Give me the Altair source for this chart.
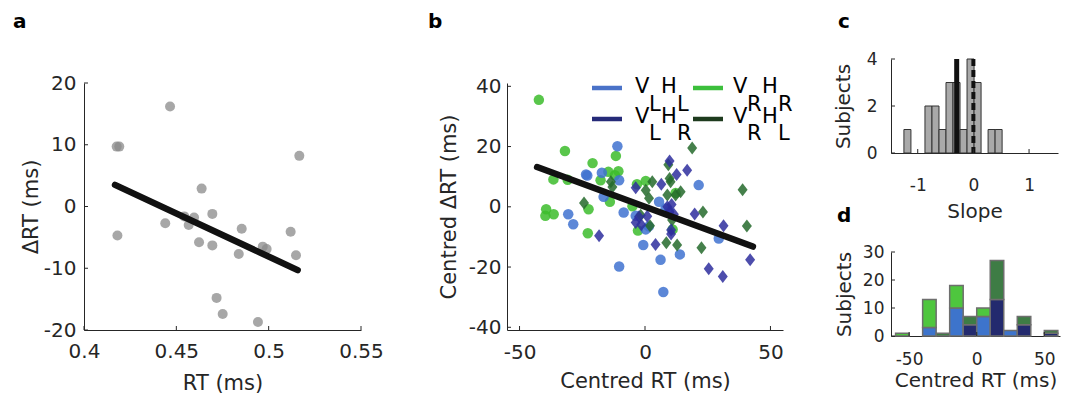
import altair as alt
import pandas as pd

FONT = "DejaVu Sans"
INK = "#262626"

# ---------------- panel a data ----------------
a_rt = [0.4466, 0.4177, 0.4191, 0.4181, 0.5166, 0.4637, 0.4440, 0.4543, 0.4596, 0.4567,
        0.4695, 0.4623, 0.4695, 0.4854, 0.4838, 0.4968, 0.4989, 0.5119, 0.5148, 0.4718,
        0.4751, 0.4942]
a_drt = [16.2, 9.7, 9.7, -4.7, 8.2, 2.9, -2.7, -1.6, -1.8, -3.0,
         -1.2, -5.8, -6.3, -3.6, -7.7, -6.5, -6.9, -4.1, -7.9, -14.8,
         -17.4, -18.7]
a_fit_x = [0.4168, 0.5157]
a_fit_y = [3.5, -10.3]
a_xticks = [0.4, 0.45, 0.5, 0.55]
a_yticks = [-20, -10, 0, 10, 20]

# ---------------- panel b data ----------------
b_vrhr_x = [-42.3, -31.9, -20.9, -11.6, -10.6, -14.6, -17.7, -36.5, -30.8, -39.4, -39.7,
            -36.4, -22.5, -22.8, -14.0, -5.0, -2.8, -3.2, 0.3, 12.2, 11.0, -12.0]
b_vrhr_y = [35.5, 18.5, 14.5, 16.9, 11.8, 11.6, 8.8, 9.1, 9.0, -0.8, -3.0,
            -2.5, -0.8, -8.8, 1.7, 0.2, -7.9, 7.5, 8.6, 4.6, -7.5, 10.5]
b_vlhl_x = [-11.0, -23.5, -23.0, -17.2, -10.3, -16.5, -30.6, -28.6, -8.5, -3.7, -0.7,
            0.3, 6.2, 13.9, -10.3, 7.3, 21.4, 29.4, 5.6, 8.2, 1.5, 9.5]
b_vlhl_y = [20.1, 10.7, 10.4, 11.3, 8.8, 3.3, -2.5, -5.8, -1.9, -3.0, -12.7,
            -7.5, -17.6, -15.8, -19.8, -28.3, 7.2, -10.5, 1.7, -0.6, -6.5, -1.5]
b_vlhr_x = [-18.3, -3.7, 6.5, 9.8, 12.6, 16.8, 19.8, 25.4, 31.0, 31.3, 41.9,
            -2.4, 0.9, 10.4, 10.4, 4.2, 8.9, 9.8, -3.7, 10.6, 11.5, -1.5]
b_vlhr_y = [-9.6, 6.3, 7.5, 15.2, 10.7, 12.1, -2.4, -20.6, -23.1, -6.3, -17.6,
            -3.3, -3.1, -7.7, -9.0, -12.5, 0.0, -1.7, -5.2, 0.8, -2.5, -6.0]
b_vrhl_x = [18.8, 9.3, 9.8, 2.9, 0.3, 1.6, 8.9, 12.2, 14.2, 38.9, 40.6,
            23.1, 22.5, 12.8, 8.5, 2.0, -13.6, -24.3, -13.0, 10.2, 10.8, -1.7]
b_vrhl_y = [19.5, 14.0, 9.4, 8.3, 5.5, 2.8, 3.9, 3.9, 5.0, 5.7, -6.4,
            -1.7, -13.6, -12.7, -11.9, -6.3, 8.3, 1.3, 6.6, 8.3, -4.4, -2.8]
b_fit_x = [-43.0, 43.0]
b_fit_y = [13.2, -13.2]
b_xticks = [-50, 0, 50]
b_yticks = [-40, -20, 0, 20, 40]

# legend labels: main letters and subscripts
leg_main = [["V", "H"], ["V", "H"], ["V", "H"], ["V", "H"]]
leg_sub = [["L", "L"], ["L", "R"], ["R", "R"], ["R", "L"]]

# ---------------- panel c data ----------------
c_lo = [-1.248, -0.870, -0.744, -0.618, -0.492, -0.366, -0.240, -0.114, 0.012, 0.264, 0.390]
c_hi = [-1.122, -0.744, -0.618, -0.492, -0.366, -0.240, -0.114, 0.012, 0.138, 0.390, 0.516]
c_n = [1, 2, 2, 1, 3, 3, 1, 4, 3, 1, 1]
c_mean = [-0.30]
c_zero = [0.0]
c_xticks = [-1, 0, 1]
c_yticks = [0, 2, 4]

# ---------------- panel d data ----------------
d_lo = [-60, -50, -40, -30, -20, -10, 0, 10, 20, 30, 40, 50]
d_hi = [-50, -40, -30, -20, -10, 0, 10, 20, 30, 40, 50, 60]
d_vlhl = [0, 0, 3, 0, 10, 0, 7, 0, 2, 0, 0, 0]
d_vrhr = [1, 0, 10, 0, 8, 0, 3, 0, 0, 0, 0, 0]
d_vlhr = [0, 0, 0, 0, 0, 4, 0, 13, 0, 4, 0, 1]
d_vrhl = [0, 0, 0, 1, 0, 3, 0, 14, 0, 3, 0, 1]
d_xticks = [-50, 0, 50]
d_yticks = [0, 10, 20, 30]

# ---------------- styles ----------------
COND = ["VLHL", "VLHR", "VRHR", "VRHL"]
PT_COL = {"VLHL": "#3f72d0", "VLHR": "#2e2e9e", "VRHR": "#3cbc2c", "VRHL": "#256a2c"}
LEG_COL = {"VLHL": "#4a72c8", "VLHR": "#252a78", "VRHR": "#3cbf3c", "VRHL": "#1e3b1e"}
HIST_COL = {"VLHL": "#3d74cc", "VLHR": "#232a6e", "VRHR": "#4ec63e", "VRHL": "#3e7c45"}
DIAMOND = "M0,-1.3L1,0L0,1.3L-1,0Z"
MINUS_FIX = "replace(datum.label, '\u2212', '-')"


def axis(title, values, fmt, lsize, tsize, lpad, tpad):
    return alt.Axis(title=title, values=values, format=fmt, labelExpr=MINUS_FIX,
                    grid=False, ticks=False, tickSize=0, domainColor=INK, domainWidth=1,
                    labelColor=INK, titleColor=INK, labelFont=FONT, titleFont=FONT,
                    labelFontSize=lsize, titleFontSize=tsize, titleFontWeight="normal",
                    labelPadding=lpad, titlePadding=tpad, labelFlush=False,
                    labelOverlap=False)


def ticks_x(vals, xs, xax, H):
    return alt.Chart(pd.DataFrame({"v": vals})).mark_rule(color=INK, strokeWidth=1).encode(
        x=alt.X("v:Q", scale=xs, axis=xax), y=alt.value(H), y2=alt.value(H - 4))


def ticks_y(vals, ys, yax, x0=0):
    return alt.Chart(pd.DataFrame({"v": vals})).mark_rule(color=INK, strokeWidth=1).encode(
        y=alt.Y("v:Q", scale=ys, axis=yax), x=alt.value(x0), x2=alt.value(x0 + 4))


def letter(ch, x, y):
    return alt.Chart(pd.DataFrame({"t": [ch]})).mark_text(
        font=FONT, fontSize=20, fontWeight="bold", color="black", align="left",
        baseline="alphabetic").encode(text="t:N", x=alt.value(x), y=alt.value(y))


# ---------------- panel a ----------------
axs = alt.Scale(domain=[0.4, 0.55], range=[0, 277], nice=False, zero=False)
ays = alt.Scale(domain=[-20, 20], range=[271, 24], nice=False, zero=False)
ax_a_x = axis("RT (ms)", a_xticks, ".2~f", 20, 21, 11, 11)
ax_a_y = axis("\u0394RT (ms)", a_yticks, "d", 20, 21, 8, 2)

a_pts = alt.Chart(pd.DataFrame({"rt": a_rt, "drt": a_drt})).mark_circle(
    size=100, color="#8a8a8a", opacity=0.75).encode(
    x=alt.X("rt:Q", scale=axs, axis=ax_a_x), y=alt.Y("drt:Q", scale=ays, axis=ax_a_y))
a_fit = alt.Chart(pd.DataFrame({"x": a_fit_x, "y": a_fit_y})).mark_line(
    color="#111111", strokeWidth=6.5, strokeCap="round").encode(
    x=alt.X("x:Q", scale=axs, axis=ax_a_x), y=alt.Y("y:Q", scale=ays, axis=ax_a_y))
panel_a = alt.layer(
    a_pts, a_fit,
    ticks_x(a_xticks, axs, ax_a_x, 271), ticks_y(a_yticks, ays, ax_a_y),
    letter("a", -71, -31),
).properties(width=315, height=271)

# ---------------- panel b ----------------
bxs = alt.Scale(domain=[-55, 55], range=[0, 276], nice=False, zero=False)
bys = alt.Scale(domain=[-40.9, 41.1], range=[271, 24], nice=False, zero=False)
ax_b_x = axis("Centred RT (ms)", b_xticks, "d", 20, 21, 12, 8)
ax_b_y = axis("Centred \u0394RT (ms)", b_yticks, "d", 20, 21, 6, 9)

b_series = {
    "VRHR": (b_vrhr_x, b_vrhr_y, "circle"),
    "VLHL": (b_vlhl_x, b_vlhl_y, "circle"),
    "VRHL": (b_vrhl_x, b_vrhl_y, DIAMOND),
    "VLHR": (b_vlhr_x, b_vlhr_y, DIAMOND),
}
b_layers = []
for cond, (xs_, ys_, shp) in b_series.items():
    b_layers.append(
        alt.Chart(pd.DataFrame({"x": xs_, "y": ys_})).mark_point(
            shape=shp, filled=True, size=110 if shp == "circle" else 100,
            color=PT_COL[cond], opacity=0.85, strokeWidth=0).encode(
            x=alt.X("x:Q", scale=bxs, axis=ax_b_x), y=alt.Y("y:Q", scale=bys, axis=ax_b_y)))
b_fit = alt.Chart(pd.DataFrame({"x": b_fit_x, "y": b_fit_y})).mark_line(
    color="#111111", strokeWidth=6.5, strokeCap="round").encode(
    x=alt.X("x:Q", scale=bxs, axis=ax_b_x), y=alt.Y("y:Q", scale=bys, axis=ax_b_y))
b_layers.append(b_fit)
b_layers.append(ticks_x(b_xticks, bxs, ax_b_x, 271))
b_layers.append(ticks_y(b_yticks, bys, ax_b_y))

# legend (pixel layout inside panel b)
leg_pos = [(85, 0, [43, 57, 69, 85]), (85, 1, [43, 57, 69, 85]),
           (186, 0, [40, 54, 69, 85]), (186, 1, [40, 54, 69, 85])]
row_line = [29, 60]
row_main = [34, 64]
row_sub = [52, 81]
for i, cond in enumerate(COND):
    x0, r, offs = leg_pos[i]
    b_layers.append(
        alt.Chart(pd.DataFrame({"c": [cond]})).mark_rule(
            color=LEG_COL[cond], strokeWidth=4.5).encode(
            x=alt.value(x0), x2=alt.value(x0 + 30), y=alt.value(row_line[r])))
    pieces = [(leg_main[i][0], offs[0], row_main[r]), (leg_sub[i][0], offs[1], row_sub[r]),
              (leg_main[i][1], offs[2], row_main[r]), (leg_sub[i][1], offs[3], row_sub[r])]
    for txt, ox, yy in pieces:
        b_layers.append(
            alt.Chart(pd.DataFrame({"t": [txt]})).mark_text(
                font=FONT, fontSize=21, color="black", align="left",
                baseline="alphabetic").encode(
                text="t:N", x=alt.value(x0 + ox), y=alt.value(yy)))
b_layers.append(letter("b", -79, -31))
panel_b = alt.layer(*b_layers).properties(width=276, height=271)

# ---------------- panel c ----------------
cxs = alt.Scale(domain=[-1.48, 1.52], nice=False, zero=False)
cys = alt.Scale(domain=[0, 4], nice=False, zero=False)
ax_c_x = axis("Slope", c_xticks, "d", 17, 20, 24, 8)
ax_c_y = axis("Subjects", c_yticks, "d", 17, 20, 14, 13)

c_bars = alt.Chart(pd.DataFrame({"lo": c_lo, "hi": c_hi, "n": c_n})).mark_rect(
    fill="#a9a9a9", stroke="#333333", strokeWidth=1).encode(
    x=alt.X("lo:Q", scale=cxs, axis=ax_c_x), x2="hi:Q",
    y=alt.Y("n:Q", scale=cys, axis=ax_c_y), y2=alt.Y2(datum=0))
c_m = alt.Chart(pd.DataFrame({"v": c_mean})).mark_rule(color="#111111", strokeWidth=5).encode(
    x=alt.X("v:Q", scale=cxs, axis=ax_c_x),
    y=alt.Y(datum=4, scale=cys, axis=ax_c_y), y2=alt.Y2(datum=0))
c_z = alt.Chart(pd.DataFrame({"v": c_zero})).mark_rule(
    color="#111111", strokeWidth=4, strokeDash=[7, 4]).encode(
    x=alt.X("v:Q", scale=cxs, axis=ax_c_x),
    y=alt.Y(datum=4, scale=cys, axis=ax_c_y), y2=alt.Y2(datum=0))
panel_c = alt.layer(
    c_bars, c_m, c_z,
    ticks_x(c_xticks, cxs, ax_c_x, 94), ticks_y(c_yticks, cys, ax_c_y),
    letter("c", -53, -31),
).properties(width=167, height=94)

# ---------------- panel d ----------------
rows = []
for i in range(len(d_lo)):
    for cond, arr, o in [("VLHL", d_vlhl, 0), ("VRHR", d_vrhr, 1),
                         ("VLHR", d_vlhr, 0), ("VRHL", d_vrhl, 1)]:
        if arr[i] > 0:
            rows.append({"lo": d_lo[i], "hi": d_hi[i], "cond": cond, "n": arr[i], "ord": o})
d_df = pd.DataFrame(rows)
dxs = alt.Scale(domain=[-63.4, 61.6], nice=False, zero=False)
dys = alt.Scale(domain=[0, 30], nice=False, zero=False)
ax_d_x = axis("Centred RT (ms)", d_xticks, "d", 17, 20, 15, 3)
ax_d_y = axis("Subjects", d_yticks, "d", 17, 20, 7, 8)

d_bars = alt.Chart(d_df).transform_stack(
    stack="n", groupby=["lo"], as_=["n0", "n1"],
    sort=[alt.SortField("ord", order="ascending")]).mark_rect(
    stroke="#6e6e6e", strokeWidth=1.5).encode(
    x=alt.X("lo:Q", scale=dxs, axis=ax_d_x), x2="hi:Q",
    y=alt.Y("n0:Q", scale=dys, axis=ax_d_y), y2="n1:Q",
    color=alt.Color("cond:N", scale=alt.Scale(domain=COND, range=[HIST_COL[c] for c in COND]),
                    legend=None))
panel_d = alt.layer(
    d_bars,
    ticks_x(d_xticks, dxs, ax_d_x, 84), ticks_y(d_yticks, dys, ax_d_y),
    letter("d", -54, -30),
).properties(width=169, height=84)

right = alt.VConcatChart(vconcat=[panel_c, panel_d], spacing=99, bounds="flush")

chart = alt.HConcatChart(
    hconcat=[panel_a, panel_b, right], spacing=108, bounds="flush",
    padding={"left": 5, "top": 4, "right": 5, "bottom": 2},
).configure_view(stroke=None)

chart.save("out.html", embed_options={"renderer": "svg", "actions": False})
